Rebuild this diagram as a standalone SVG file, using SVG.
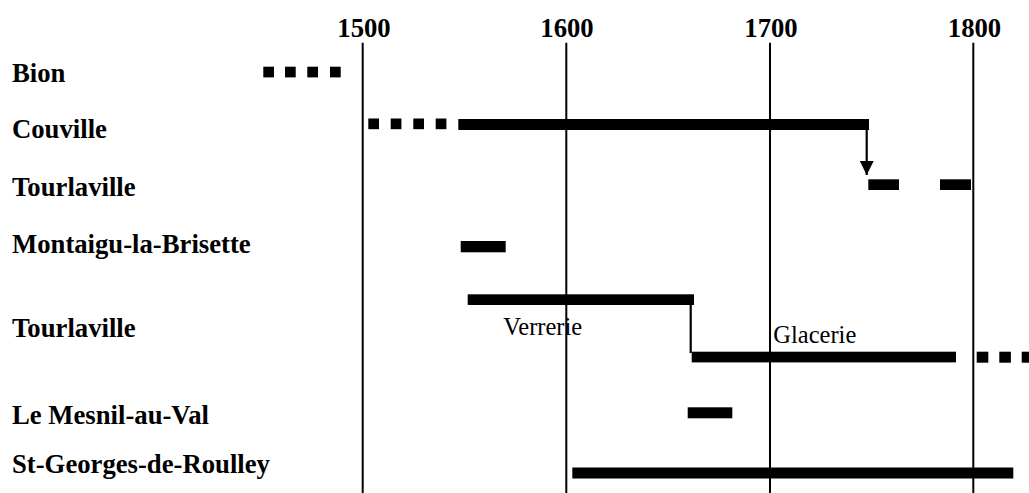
<svg xmlns="http://www.w3.org/2000/svg" width="1029" height="493" viewBox="0 0 1029 493">
<style>
.lbl{font-family:"Liberation Serif","Times New Roman",serif;font-weight:bold;font-size:26.7px;fill:#000}
.yr{font-family:"Liberation Serif","Times New Roman",serif;font-weight:bold;font-size:26.7px;fill:#000;text-anchor:middle}
.note{font-family:"Liberation Serif","Times New Roman",serif;font-size:24.5px;fill:#000}
.grid{stroke:#000;stroke-width:2;fill:none}
.bar{fill:#000}
.conn{stroke:#000;stroke-width:2.2;fill:none}
</style>
<defs>
<marker id="ah" markerUnits="userSpaceOnUse" markerWidth="14" markerHeight="14" refX="14" refY="7" orient="auto">
<path d="M0,0 L14,7 L0,14 z" fill="#000"/>
</marker>
</defs>
<rect width="1029" height="493" fill="#fff"/>
<g id="axis">
<text class="yr" x="364" y="37">1500</text>
<text class="yr" x="567" y="37">1600</text>
<text class="yr" x="771" y="37">1700</text>
<text class="yr" x="974.5" y="37">1800</text>
<line class="grid" x1="362.7" y1="42.7" x2="362.7" y2="493"/>
<line class="grid" x1="566.3" y1="42.7" x2="566.3" y2="493"/>
<line class="grid" x1="770" y1="42.7" x2="770" y2="493"/>
<line class="grid" x1="973.3" y1="42.7" x2="973.3" y2="493"/>
</g>
<g id="bion">
<text class="lbl" x="12" y="81.5">Bion</text>
<rect class="bar" x="263.3" y="66.7" width="10.7" height="10.7"/>
<rect class="bar" x="285" y="66.7" width="10.7" height="10.7"/>
<rect class="bar" x="307.3" y="66.7" width="10.7" height="10.7"/>
<rect class="bar" x="330" y="66.7" width="10.7" height="10.7"/>
</g>
<g id="couville">
<text class="lbl" x="12" y="138.3">Couville</text>
<rect class="bar" x="368.3" y="118.5" width="10.7" height="10.7"/>
<rect class="bar" x="390.7" y="118.5" width="10.7" height="10.7"/>
<rect class="bar" x="413.3" y="118.5" width="10.7" height="10.7"/>
<rect class="bar" x="435.7" y="118.5" width="10.7" height="10.7"/>
<rect class="bar" x="458.3" y="119" width="410.7" height="11"/>
</g>
<g id="tourlaville1">
<text class="lbl" x="12" y="195.7">Tourlaville</text>
<rect class="bar" x="868.3" y="179.3" width="30.7" height="10.7"/>
<rect class="bar" x="940" y="179.3" width="31" height="10.7"/>
</g>
<g id="montaigu">
<text class="lbl" x="12" y="253.3">Montaigu-la-Brisette</text>
<rect class="bar" x="460.7" y="241" width="45" height="11.3"/>
</g>
<g id="tourlaville2">
<text class="lbl" x="12" y="336.7">Tourlaville</text>
<rect class="bar" x="467.7" y="294.3" width="226.3" height="10.7"/>
<text class="note" x="503.3" y="335">Verrerie</text>
<rect class="bar" x="691.7" y="351.7" width="264.3" height="10.7"/>
<text class="note" x="773.3" y="343.3">Glacerie</text>
<rect class="bar" x="976.7" y="351.7" width="11.6" height="11"/>
<rect class="bar" x="999.3" y="351.7" width="11.6" height="11"/>
<rect class="bar" x="1021.7" y="351.7" width="11.6" height="11"/>
</g>
<g id="mesnil">
<text class="lbl" x="12" y="424.3">Le Mesnil-au-Val</text>
<rect class="bar" x="687.7" y="407.3" width="44.6" height="11"/>
</g>
<g id="stgeorges">
<text class="lbl" x="12" y="473.3">St-Georges-de-Roulley</text>
<rect class="bar" x="572.3" y="467.5" width="441" height="11"/>
</g>
<g id="connectors">
<line class="conn" x1="866.7" y1="130" x2="866.7" y2="175" marker-end="url(#ah)"/>
<line class="conn" x1="690.7" y1="305" x2="690.7" y2="353"/>
</g>
</svg>
